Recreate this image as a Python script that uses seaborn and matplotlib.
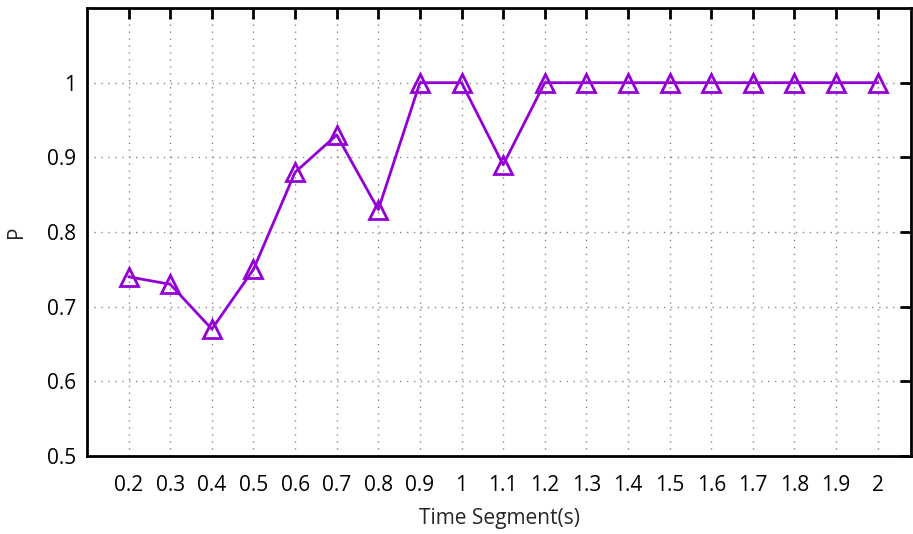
import matplotlib

matplotlib.use("Agg")
import matplotlib.pyplot as plt
import pandas as pd
import seaborn as sns

# データ
time_segments = ["0.2", "0.3", "0.4", "0.5", "0.6", "0.7", "0.8", "0.9", "1",
                 "1.1", "1.2", "1.3", "1.4", "1.5", "1.6", "1.7", "1.8", "1.9", "2"]
p_values = [0.74, 0.73, 0.67, 0.75, 0.88, 0.93, 0.83, 1.0, 1.0,
            0.89, 1.0, 1.0, 1.0, 1.0, 1.0, 1.0, 1.0, 1.0, 1.0]
y_ticks = [0.5, 0.6, 0.7, 0.8, 0.9, 1.0]
y_tick_labels = ["0.5", "0.6", "0.7", "0.8", "0.9", "1"]

df = pd.DataFrame({"segment": time_segments, "P": p_values})

sns.set_theme(style="white")
plt.rcParams["font.family"] = ["Open Sans", "DejaVu Sans"]

fig = plt.figure(figsize=(9.13, 5.34), dpi=100)
ax = fig.add_axes([0.0953, 0.146, 0.9025, 0.839])

sns.lineplot(
    data=df, x="segment", y="P", ax=ax, color="#9400D3", linewidth=2,
    marker="^", markersize=13, markerfacecolor="none",
    markeredgecolor="#9400D3", markeredgewidth=2, sort=False,
)

ax.set_xlim(-1, 18.8)
ax.set_ylim(0.5, 1.1)
ax.set_xticks(range(len(time_segments)))
ax.set_xticklabels(time_segments)
ax.set_yticks(y_ticks)
ax.set_yticklabels(y_tick_labels)

# gnuplot風の目盛りと枠
ax.grid(True, linestyle=(0, (1, 4)), color="#888888", linewidth=1)
ax.tick_params(direction="in", length=8, width=2, top=True, right=True,
               labelsize=15, colors="black")
ax.tick_params(axis="x", pad=14)
ax.tick_params(axis="y", pad=8)
for spine in ax.spines.values():
    spine.set_linewidth(2)
    spine.set_color("black")

ax.set_xlabel("Time Segment(s)", fontsize=15, labelpad=8)
ax.set_ylabel("P", fontsize=15, labelpad=14)

fig.savefig("out.png", dpi=100)
